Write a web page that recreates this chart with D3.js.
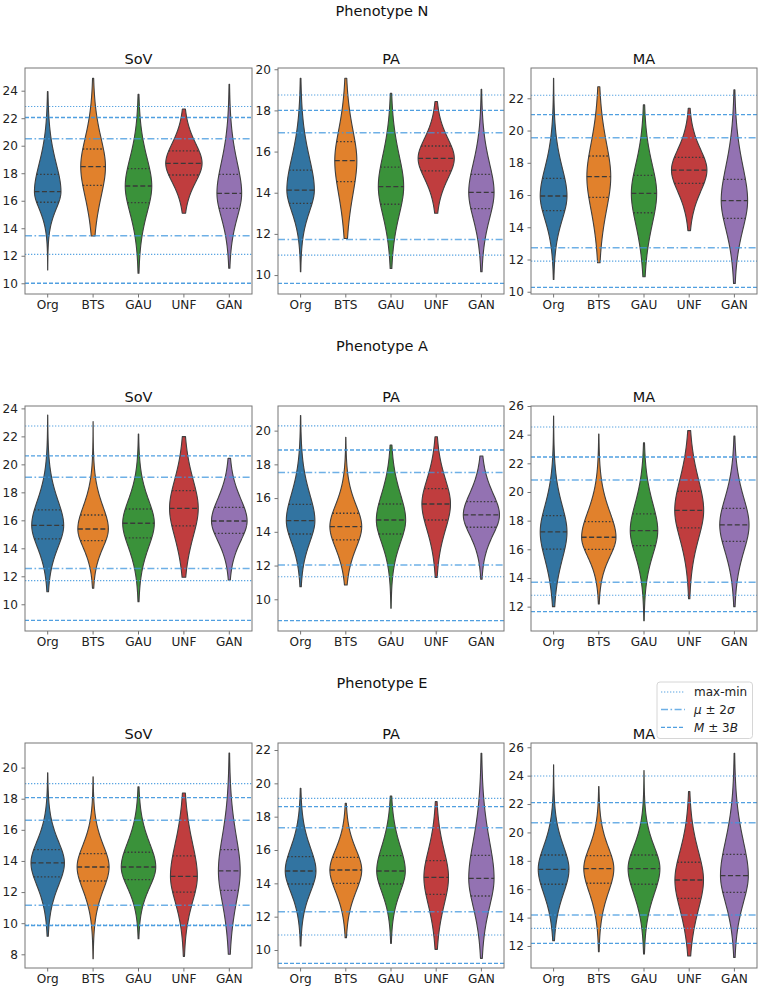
<!DOCTYPE html>
<html><head><meta charset="utf-8">
<script src="https://cdn.jsdelivr.net/npm/d3@7"></script>
<style>
body{margin:0;background:#fff}
svg{display:block}
text{font-family:"DejaVu Sans",sans-serif}
</style>
</head><body>
<svg id="chart" width="765" height="991"></svg>
<script>
// ---------- data (panels in row-major order: N-SoV, N-PA, N-MA, A-SoV, A-PA, A-MA, E-SoV, E-PA, E-MA) ----------
const phenotypes = ["Phenotype N", "Phenotype A", "Phenotype E"];
const metrics = ["SoV", "PA", "MA"];
const categories = ["Org", "BTS", "GAU", "UNF", "GAN"];
const violinColors = ["#3274a1", "#e1812c", "#3a923a", "#c03d3e", "#9372b2"];

const mins = [
  [10.97, 13.44, 10.73, 15.09, 11.09],
  [10.16, 11.78, 10.32, 13.0, 10.16],
  [10.76, 11.8, 10.93, 13.79, 10.52],
  [10.9, 11.14, 10.19, 11.93, 11.74],
  [10.75, 10.85, 9.47, 11.3, 11.19],
  [12.0, 12.19, 11.02, 12.56, 12.0],
  [9.16, 7.72, 9.0, 7.87, 8.0],
  [10.24, 10.74, 10.4, 10.04, 9.5],
  [12.38, 11.6, 11.44, 11.3, 11.2]
];
const q1s = [
  [15.89, 17.12, 15.86, 17.87, 15.45],
  [13.48, 14.54, 13.44, 15.06, 13.23],
  [15.03, 15.85, 14.9, 16.72, 14.55],
  [14.67, 14.55, 14.74, 15.6, 15.07],
  [13.87, 13.52, 13.87, 14.7, 14.27],
  [16.02, 16.0, 16.26, 17.49, 16.56],
  [12.97, 12.71, 12.8, 11.99, 12.11],
  [13.96, 14.0, 13.96, 13.34, 13.24],
  [16.35, 16.42, 16.35, 15.36, 15.78]
];
const medians = [
  [16.66, 18.48, 17.07, 18.72, 16.54],
  [14.13, 15.56, 14.3, 15.67, 14.02],
  [15.94, 17.14, 16.1, 17.55, 15.65],
  [15.64, 15.38, 15.79, 16.86, 15.95],
  [14.66, 14.31, 14.7, 15.65, 15.0],
  [17.21, 16.84, 17.3, 18.72, 17.7],
  [13.87, 13.61, 13.61, 13.01, 13.36],
  [14.74, 14.8, 14.74, 14.36, 14.3],
  [17.4, 17.45, 17.45, 16.65, 16.96]
];
const q3s = [
  [17.92, 19.76, 18.33, 19.62, 17.92],
  [15.1, 16.48, 15.24, 16.27, 14.89],
  [17.03, 18.42, 17.22, 18.34, 16.97],
  [16.74, 16.38, 16.81, 18.12, 16.93],
  [15.63, 15.1, 15.65, 16.56, 15.79],
  [18.35, 17.93, 18.47, 20.05, 18.86],
  [14.73, 14.47, 14.56, 14.32, 14.73],
  [15.6, 15.56, 15.66, 15.36, 15.68],
  [18.41, 18.37, 18.41, 17.9, 18.46]
];
const maxs = [
  [23.93, 24.9, 23.73, 22.67, 24.46],
  [19.56, 19.56, 18.83, 18.43, 19.03],
  [23.24, 22.72, 21.59, 21.38, 22.52],
  [23.52, 23.05, 22.17, 21.98, 20.43],
  [20.89, 19.6, 19.15, 19.64, 18.5],
  [25.3, 24.05, 23.44, 24.28, 23.9],
  [19.66, 19.4, 18.76, 18.37, 20.94],
  [19.7, 18.8, 19.24, 18.9, 21.8],
  [24.76, 23.23, 24.36, 22.88, 25.58]
];
// relative peak density (1 = widest violin)
const peakDensity = [
  [0.73, 0.68, 0.73, 1.0, 0.68],
  [0.76, 0.61, 0.70, 1.0, 0.70],
  [0.74, 0.66, 0.70, 0.98, 0.73],
  [0.88, 0.84, 0.87, 0.79, 0.98],
  [0.79, 0.88, 0.81, 0.79, 1.0],
  [0.74, 0.95, 0.76, 0.80, 0.81],
  [0.92, 0.88, 0.95, 0.74, 0.60],
  [0.85, 0.88, 0.79, 0.68, 0.70],
  [0.85, 0.83, 0.88, 0.79, 0.77]
];
// reference lines [low, high]
const maxMinLines = [
  [12.1, 22.85], [10.97, 18.75], [11.9, 22.19],
  [11.69, 22.74], [11.34, 20.28], [12.79, 24.53],
  [9.88, 18.97], [10.9, 19.1], [13.24, 23.98]
];
const mu2SigmaLines = [
  [13.45, 20.5], [11.73, 16.92], [12.73, 19.56],
  [12.55, 19.07], [12.04, 17.51], [13.7, 20.84],
  [11.15, 16.61], [12.3, 17.34], [14.18, 20.69]
];
const m3BLines = [
  [10.0, 22.05], [9.6, 18.0], [10.27, 20.99],
  [8.85, 20.6], [8.74, 18.85], [11.65, 22.44],
  [9.85, 18.07], [9.2, 18.6], [12.19, 22.1]
];
const yDomains = [
  [9.22, 25.65], [9.08, 20.06], [9.86, 23.88],
  [8.09, 24.17], [8.12, 21.46], [10.3, 26.0],
  [7.12, 21.58], [8.92, 22.42], [10.45, 26.3]
];
const yTicks = [
  [10, 12, 14, 16, 18, 20, 22, 24], [10, 12, 14, 16, 18, 20], [10, 12, 14, 16, 18, 20, 22],
  [10, 12, 14, 16, 18, 20, 22, 24], [10, 12, 14, 16, 18, 20], [12, 14, 16, 18, 20, 22, 24, 26],
  [8, 10, 12, 14, 16, 18, 20], [10, 12, 14, 16, 18, 20, 22], [12, 14, 16, 18, 20, 22, 24, 26]
];
const legendLabels = ["max-min", "μ ± 2σ", "M ± 3B"];

// ---------- layout ----------
const colLeft = [25, 278, 531];
const colRight = [252, 504, 757];
const rowTop = [68, 406, 743];
const rowBottom = [294, 631, 968];
const suptitleY = [15.5, 350.5, 688];

const lineColor = "#3d95dd";
const lineStyles = [
  {arr: maxMinLines, dash: "1.3,1.7", w: 1.1, op: 0.85},
  {arr: mu2SigmaLines, dash: "7,2.5,1.6,2.5", w: 1.5, op: 0.75},
  {arr: m3BLines, dash: "4,2", w: 1.3, op: 0.9}
];

const svg = d3.select("#chart");

// smooth, slightly heavy-tailed density profile shaped by the quartiles
function profile(v, q1, med, q3) {
  const s = v < med ? (med - q1) / 0.674 : (q3 - med) / 0.674;
  const z = Math.abs(v - med) / s;
  return Math.exp(-0.55 * (Math.pow(1 + z * z, 0.75) - 1));
}

phenotypes.forEach((ph, r) => {
  svg.append("text")
    .attr("x", 382).attr("y", suptitleY[r])
    .attr("text-anchor", "middle")
    .attr("font-size", 14.5).attr("fill", "#111")
    .text(ph);

  metrics.forEach((m, c) => {
    const p = r * 3 + c;
    const g = svg.append("g");
    const x = d3.scaleBand().domain(categories).range([colLeft[c], colRight[c]]).padding(0);
    const y = d3.scaleLinear().domain(yDomains[p]).range([rowBottom[r], rowTop[r]]);
    const maxHalf = x.bandwidth() * 0.4;

    const clipId = "clip" + p;
    svg.append("clipPath").attr("id", clipId).append("rect")
      .attr("x", colLeft[c]).attr("y", rowTop[r])
      .attr("width", colRight[c] - colLeft[c]).attr("height", rowBottom[r] - rowTop[r]);
    const plot = g.append("g").attr("clip-path", `url(#${clipId})`);

    categories.forEach((cat, i) => {
      const cx = x(cat) + x.bandwidth() / 2;
      const lo = mins[p][i], hi = maxs[p][i];
      const q1 = q1s[p][i], med = medians[p][i], q3 = q3s[p][i];
      const hw = v => maxHalf * peakDensity[p][i] * profile(v, q1, med, q3);
      const n = 160;
      const pts = d3.range(n + 1).map(k => lo + (hi - lo) * k / n);
      const area = d3.area()
        .x0(v => cx - hw(v)).x1(v => cx + hw(v)).y(v => y(v))
        .curve(d3.curveLinear);
      plot.append("path").datum(pts)
        .attr("d", area)
        .attr("fill", violinColors[i])
        .attr("stroke", "#3f3f3f").attr("stroke-width", 1.1)
        .attr("stroke-linejoin", "round");
      [[q1, "1.5,2"], [med, "5,2.5"], [q3, "1.5,2"]].forEach(([v, dash]) => {
        plot.append("line")
          .attr("x1", cx - hw(v)).attr("x2", cx + hw(v))
          .attr("y1", y(v)).attr("y2", y(v))
          .attr("stroke", "#3a3a3a").attr("stroke-width", 1.3)
          .attr("stroke-dasharray", dash);
      });
    });

    lineStyles.forEach(ls => {
      ls.arr[p].forEach(v => {
        plot.append("line")
          .attr("x1", colLeft[c]).attr("x2", colRight[c])
          .attr("y1", y(v)).attr("y2", y(v))
          .attr("stroke", lineColor).attr("stroke-width", ls.w)
          .attr("stroke-opacity", ls.op)
          .attr("stroke-dasharray", ls.dash);
      });
    });

    const ya = g.append("g").attr("transform", `translate(${colLeft[c]},0)`)
      .call(d3.axisLeft(y).tickValues(yTicks[p]).tickSize(3.5).tickPadding(3.5).tickFormat(d3.format("d")));
    const xa = g.append("g").attr("transform", `translate(0,${rowBottom[r]})`)
      .call(d3.axisBottom(x).tickSize(3.5).tickPadding(3));
    [ya, xa].forEach(a => {
      a.select(".domain").remove();
      a.selectAll(".tick line").attr("stroke", "#666").attr("stroke-width", 0.9);
      a.selectAll(".tick text").attr("font-family", "DejaVu Sans, sans-serif")
        .attr("font-size", 12.1).attr("fill", "#222");
    });

    g.append("rect")
      .attr("x", colLeft[c]).attr("y", rowTop[r])
      .attr("width", colRight[c] - colLeft[c]).attr("height", rowBottom[r] - rowTop[r])
      .attr("fill", "none").attr("stroke", "#777").attr("stroke-width", 1);

    g.append("text")
      .attr("x", (colLeft[c] + colRight[c]) / 2).attr("y", rowTop[r] - 4.5)
      .attr("text-anchor", "middle").attr("font-size", 14.5).attr("fill", "#111")
      .text(m);
  });
});

// ---------- legend ----------
const lg = svg.append("g");
lg.append("rect")
  .attr("x", 657).attr("y", 682).attr("width", 95.5).attr("height", 56.5)
  .attr("rx", 3).attr("fill", "#fff").attr("fill-opacity", 0.85)
  .attr("stroke", "#d6d6d6").attr("stroke-width", 1);
const legendY = [692, 709.5, 727.3];
lineStyles.forEach((ls, i) => {
  lg.append("line")
    .attr("x1", 661).attr("x2", 685)
    .attr("y1", legendY[i]).attr("y2", legendY[i])
    .attr("stroke", lineColor).attr("stroke-width", ls.w)
    .attr("stroke-opacity", ls.op).attr("stroke-dasharray", ls.dash);
});
lg.append("text").attr("x", 694).attr("y", legendY[0] + 4.2)
  .attr("font-size", 12).attr("fill", "#222").text(legendLabels[0]);
const lt1 = lg.append("text").attr("x", 694).attr("y", legendY[1] + 4.2)
  .attr("font-size", 12).attr("fill", "#222");
lt1.append("tspan").attr("font-style", "italic").text("μ");
lt1.append("tspan").text(" ± 2");
lt1.append("tspan").attr("font-style", "italic").text("σ");
const lt2 = lg.append("text").attr("x", 694).attr("y", legendY[2] + 4.2)
  .attr("font-size", 12).attr("fill", "#222");
lt2.append("tspan").attr("font-style", "italic").text("M");
lt2.append("tspan").text(" ± 3");
lt2.append("tspan").attr("font-style", "italic").text("B");
</script>
</body></html>
